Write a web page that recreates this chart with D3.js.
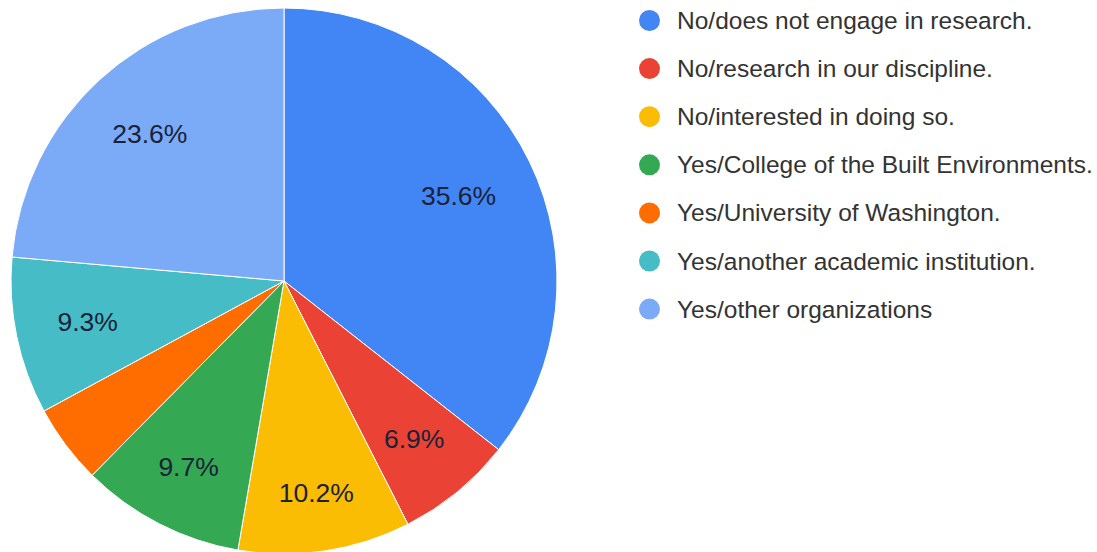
<!DOCTYPE html>
<html><head><meta charset="utf-8">
<script src="https://cdn.jsdelivr.net/npm/d3@7"></script>
<style>body{margin:0;background:#fff;overflow:hidden}svg{display:block}</style>
</head><body>
<script>
const categories = ["No/does not engage in research.","No/research in our discipline.","No/interested in doing so.","Yes/College of the Built Environments.","Yes/University of Washington.","Yes/another academic institution.","Yes/other organizations"];
const values = [35.6, 6.9, 10.2, 9.7, 4.7, 9.3, 23.6];
const colors = ["#4285f4","#ea4335","#fbbc04","#34a853","#ff6d01","#46bdc6","#7baaf7"];

const W = 1097, H = 552;
const svg = d3.select("body").append("svg").attr("width", W).attr("height", H);
const cx = 284, cy = 281, R = 273;
const pie = d3.pie().sort(null).value(d => d.v);
const data = categories.map((c, i) => ({c, v: values[i], col: colors[i]}));
const arcs = pie(data);
const arc = d3.arc().innerRadius(0).outerRadius(R);
const g = svg.append("g").attr("transform", `translate(${cx},${cy})`);
g.selectAll("path").data(arcs).join("path")
  .attr("d", arc).attr("fill", d => d.data.col)
  .attr("stroke", "#fff").attr("stroke-width", 1);
const total = d3.sum(values);
const fs = 26.5;
const labels = g.selectAll("text").data(arcs.filter(d => d.data.v / total >= 0.05)).join("text")
  .attr("text-anchor", "middle").attr("dominant-baseline", "central")
  .attr("font-family", "Liberation Sans, Arial, sans-serif").attr("font-size", fs)
  .attr("fill", "#1a2238")
  .text(d => d.data.v.toFixed(1) + "%");
// place each label along its bisector so the far corner of its box sits at 0.85R
const D = 0.85 * R;
labels.each(function(d) {
  const w = this.getBBox().width / 2, h = fs * 0.35;
  const a = (d.startAngle + d.endAngle) / 2;
  const s = Math.abs(Math.sin(a)), c = Math.abs(Math.cos(a));
  const b = w * s + h * c;
  const r = -b + Math.sqrt(b * b - (w * w + h * h - D * D));
  d3.select(this).attr("transform", `translate(${r * Math.sin(a)},${-r * Math.cos(a)})`);
});

const lg = svg.append("g").attr("transform", "translate(649.5,20.5)");
const item = lg.selectAll("g").data(data).join("g")
  .attr("transform", (d, i) => `translate(0,${i * 48.1})`);
item.append("circle").attr("r", 10.5).attr("fill", d => d.col);
item.append("text").attr("x", 27.5).attr("dominant-baseline", "central")
  .attr("font-family", "Liberation Sans, Arial, sans-serif").attr("font-size", 24.5)
  .attr("fill", "#333").text(d => d.c);
</script>
</body></html>
